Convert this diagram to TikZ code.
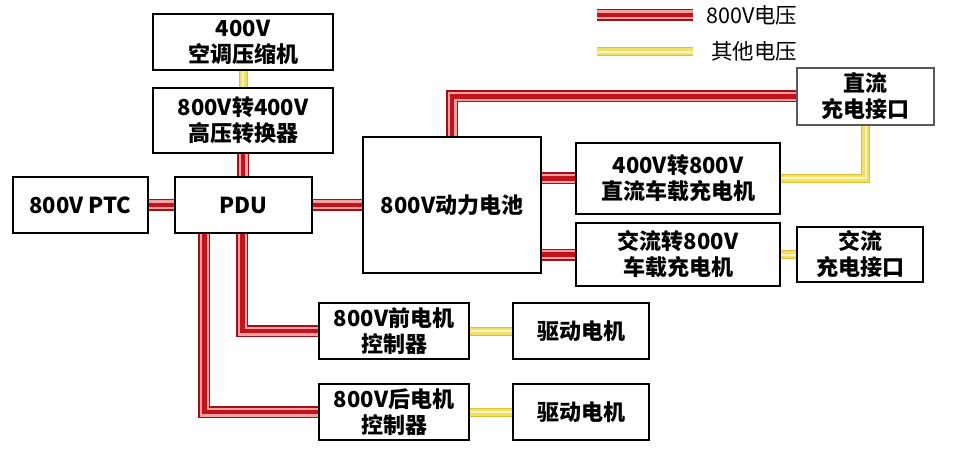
\documentclass[tikz,border=0pt]{standalone}
\usepackage{fontspec}
\usetikzlibrary{backgrounds}
\newfontfamily\cjk{Noto Sans CJK SC}
\definecolor{cabdark}{HTML}{A01018}
\definecolor{cabpink}{HTML}{F4A0A0}
\definecolor{cabred}{HTML}{C0141C}
\definecolor{yeldark}{HTML}{D8C038}
\definecolor{yellight}{HTML}{FAF2C0}
\definecolor{yelmid}{HTML}{F0E066}
\tikzset{
  box/.style={draw=black, line width=1.3pt, fill=white, inner sep=0pt, align=center,
    font=\cjk\bfseries\fontsize{22}{26}\selectfont},
  redcable/.style={line join=miter, line width=4.8pt, draw=cabred,
    preaction={draw=cabdark, line width=12pt},
    preaction={draw=cabpink, line width=9pt}},
  yelcable/.style={line join=miter, line width=2pt, draw=yellight,
    preaction={draw=yeldark, line width=9pt},
    preaction={draw=yelmid, line width=7pt}},
  legtext/.style={anchor=west, inner sep=0pt, font=\cjk\fontsize{21.5}{24}\selectfont}
}
\begin{document}
\begin{tikzpicture}[x=1pt,y=-1pt]
\useasboundingbox (0,0) rectangle (958,457);
% boxes
\node[box, minimum width=180pt, minimum height=56pt] (comp) at (243,42) {400V\\空调压缩机};
\node[box, minimum width=180pt, minimum height=65pt] (conv) at (243,120.5) {800V转400V\\高压转换器};
\node[box, minimum width=135pt, minimum height=56pt] (ptc) at (80.5,205) {800V PTC};
\node[box, minimum width=137pt, minimum height=56pt] (pdu) at (243.5,205) {PDU};
\node[box, minimum width=178pt, minimum height=136pt] (bat) at (452,205) {800V动力电池};
\node[box, draw=black!65, minimum width=137pt, minimum height=57pt] (dcport) at (865.5,96.5) {直流\\充电接口};
\node[box, minimum width=204pt, minimum height=71pt] (dcc) at (678,178.5) {400V转800V\\直流车载充电机};
\node[box, minimum width=204pt, minimum height=63pt] (acc) at (678,254.5) {交流转800V\\车载充电机};
\node[box, minimum width=126pt, minimum height=55pt] (acport) at (860,254.5) {交流\\充电接口};
\node[box, minimum width=150pt, minimum height=56pt] (front) at (394,331) {800V前电机\\控制器};
\node[box, minimum width=136pt, minimum height=56pt] (m1) at (581,331) {驱动电机};
\node[box, minimum width=150pt, minimum height=56pt] (rear) at (394,412) {800V后电机\\控制器};
\node[box, minimum width=136pt, minimum height=56pt] (m2) at (581,412) {驱动电机};
\begin{scope}[on background layer]
% red cables
\draw[redcable] (ptc.east) -- (pdu.west);
\draw[redcable] (pdu.east) -- (bat.west);
\draw[redcable] (conv.south) -- (conv.south |- pdu.north);
\draw[redcable] (bat.north) |- (dcport.west);
\draw[redcable] (dcc.west -| bat.east) -- (dcc.west);
\draw[redcable] (acc.west -| bat.east) -- (acc.west);
\draw[redcable] ([xshift=68pt]pdu.south west) |- (front.west);
\draw[redcable] ([xshift=30pt]pdu.south west) |- (rear.west);
% yellow cables
\draw[yelcable] (comp.south) -- (conv.north);
\draw[yelcable] (dcc.east) -| (dcport.south);
\draw[yelcable] (acc.east) -- (acport.west);
\draw[yelcable] (front.east) -- (m1.west);
\draw[yelcable] (rear.east) -- (m2.west);
\end{scope}
% legend
\coordinate (l1a) at (597,15);
\coordinate (l1b) at (693,15);
\coordinate (l2a) at (597,52);
\coordinate (l2b) at (693,52);
\draw[redcable] (l1a) -- (l1b);
\draw[yelcable] (l2a) -- (l2b);
\node[legtext] (t1) at (706,15) {800V电压};
\node[legtext] (t2) at (711,51) {其他电压};
\end{tikzpicture}
\end{document}
